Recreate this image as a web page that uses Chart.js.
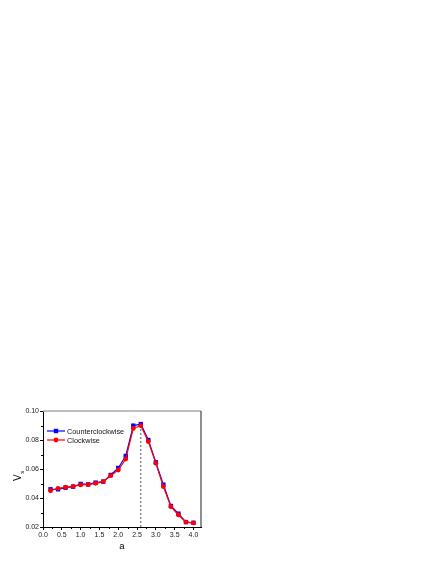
<!DOCTYPE html>
<html>
<head>
<meta charset="utf-8">
<script src="https://cdn.jsdelivr.net/npm/chart.js@4.4.0/dist/chart.umd.min.js"></script>
<style>
  html, body { margin: 0; padding: 0; background: #fff; }
  canvas { display: block; }
</style>
</head>
<body>
<canvas id="grafico" width="436" height="564"></canvas>
<script>
// Dados
const valoresA = [0.2, 0.4, 0.6, 0.8, 1.0, 1.2, 1.4, 1.6, 1.8, 2.0, 2.2, 2.4, 2.6, 2.8, 3.0, 3.2, 3.4, 3.6, 3.8, 4.0];
const antiHorario = [0.0460, 0.0460, 0.0471, 0.0478, 0.0497, 0.0494, 0.0506, 0.0513, 0.0559, 0.0607, 0.0690, 0.0899, 0.0910, 0.0800, 0.0646, 0.0492, 0.0345, 0.0292, 0.0234, 0.0229];
const horario = [0.0450, 0.0467, 0.0474, 0.0480, 0.0490, 0.0492, 0.0501, 0.0513, 0.0554, 0.0593, 0.0669, 0.0880, 0.0899, 0.0789, 0.0639, 0.0478, 0.0340, 0.0283, 0.0234, 0.0228];
const nomes = ["Counterclockwise", "Clockwise"];
const ticksX = [0.0, 0.5, 1.0, 1.5, 2.0, 2.5, 3.0, 3.5, 4.0];
const ticksY = [0.02, 0.04, 0.06, 0.08, 0.10];
const picoX = [2.6, 2.6];
const picoY = [0.02, 0.089];

const fonte = '"Liberation Sans", Arial, sans-serif';
const azul = "#0000ff";
const vermelho = "#ff0000";

function pontos(xs, ys) {
  return xs.map((x, i) => ({ x: x, y: ys[i] }));
}

// meio-ticks (ticks menores) entre os ticks principais
function menores(lista) {
  const r = [];
  for (let i = 0; i < lista.length - 1; i++) r.push((lista[i] + lista[i + 1]) / 2);
  return r;
}

const extrasPlugin = {
  id: "extras",
  afterDraw(chart) {
    const ctx = chart.ctx;
    const area = chart.chartArea;
    const sx = chart.scales.x;
    const sy = chart.scales.y;
    ctx.save();

    // moldura superior e direita
    ctx.strokeStyle = "#a8a8a8";
    ctx.lineWidth = 1.6;
    ctx.beginPath();
    ctx.moveTo(area.left, area.top);
    ctx.lineTo(area.right, area.top);
    ctx.stroke();
    ctx.strokeStyle = "#444";
    ctx.lineWidth = 1.2;
    ctx.beginPath();
    ctx.moveTo(area.right, area.top);
    ctx.lineTo(area.right, area.bottom);
    ctx.stroke();

    // ticks menores
    ctx.strokeStyle = "#000";
    ctx.lineWidth = 1;
    menores(ticksX).forEach(v => {
      const px = Math.round(sx.getPixelForValue(v)) + 0.5;
      ctx.beginPath();
      ctx.moveTo(px, area.bottom);
      ctx.lineTo(px, area.bottom + 2);
      ctx.stroke();
    });
    menores(ticksY).forEach(v => {
      const py = Math.round(sy.getPixelForValue(v)) + 0.5;
      ctx.beginPath();
      ctx.moveTo(area.left, py);
      ctx.lineTo(area.left - 2, py);
      ctx.stroke();
    });

    // titulo do eixo y: V com subscrito s
    ctx.translate(21, 481);
    ctx.rotate(-Math.PI / 2);
    ctx.fillStyle = "#000";
    ctx.textBaseline = "alphabetic";
    ctx.font = "10px " + fonte;
    ctx.fillText("V", 0, 0);
    const w = ctx.measureText("V").width;
    ctx.font = "6px " + fonte;
    ctx.fillText("s", w + 0.5, 2.5);
    ctx.restore();

    // legenda
    ctx.save();
    const cores = [azul, vermelho];
    nomes.forEach((nome, i) => {
      const y = area.top + 20 + i * 9;
      const x0 = area.left + 4;
      const x1 = area.left + 22;
      ctx.strokeStyle = cores[i];
      ctx.lineWidth = 1.2;
      ctx.beginPath();
      ctx.moveTo(x0, y);
      ctx.lineTo(x1, y);
      ctx.stroke();
      ctx.fillStyle = cores[i];
      const cx = (x0 + x1) / 2;
      if (i === 0) {
        ctx.fillRect(cx - 2.2, y - 2.2, 4.4, 4.4);
      } else {
        ctx.beginPath();
        ctx.arc(cx, y, 2.4, 0, Math.PI * 2);
        ctx.fill();
      }
      ctx.fillStyle = "#111";
      ctx.font = "7.3px " + fonte;
      ctx.textBaseline = "middle";
      ctx.fillText(nome, x1 + 2, y + 0.5);
    });
    ctx.restore();
  }
};

new Chart(document.getElementById("grafico"), {
  type: "line",
  data: {
    datasets: [
      {
        label: nomes[0],
        data: pontos(valoresA, antiHorario),
        borderColor: azul,
        backgroundColor: azul,
        borderWidth: 1.2,
        pointStyle: "rect",
        pointRadius: 3.1,
        pointBorderWidth: 0,
        order: 1
      },
      {
        label: nomes[1],
        data: pontos(valoresA, horario),
        borderColor: vermelho,
        backgroundColor: vermelho,
        borderWidth: 1.2,
        pointStyle: "circle",
        pointRadius: 2.4,
        pointBorderWidth: 0,
        order: 0
      },
      {
        label: "pico",
        data: pontos(picoX, picoY),
        borderColor: "#555",
        borderWidth: 1,
        borderDash: [2, 2],
        pointRadius: 0,
        order: 2
      }
    ]
  },
  options: {
    responsive: false,
    animation: false,
    devicePixelRatio: 1,
    layout: { padding: { left: 0, top: 411, right: 235, bottom: 0 } },
    plugins: {
      legend: { display: false },
      tooltip: { enabled: false }
    },
    scales: {
      x: {
        type: "linear",
        min: 0,
        max: 4.2,
        afterBuildTicks: s => { s.ticks = ticksX.map(v => ({ value: v })); },
        afterFit: s => { s.height = 37; },
        ticks: {
          color: "#222",
          font: { family: fonte, size: 7 },
          padding: 1,
          maxRotation: 0,
          callback: v => Number(v).toFixed(1)
        },
        grid: { drawOnChartArea: false, drawTicks: true, tickLength: 3, tickColor: "#000" },
        border: { display: true, color: "#000", width: 1 },
        title: { display: true, text: "a", color: "#000", font: { family: fonte, size: 9.5 }, padding: { top: 0, bottom: 12 } }
      },
      y: {
        type: "linear",
        min: 0.02,
        max: 0.10,
        afterBuildTicks: s => { s.ticks = ticksY.map(v => ({ value: v })); },
        afterFit: s => { s.width = 43; },
        ticks: {
          color: "#222",
          font: { family: fonte, size: 7 },
          padding: 1,
          callback: v => Number(v).toFixed(2)
        },
        grid: { drawOnChartArea: false, drawTicks: true, tickLength: 3, tickColor: "#000" },
        border: { display: true, color: "#000", width: 1 }
      }
    }
  },
  plugins: [extrasPlugin]
});
</script>
</body>
</html>
